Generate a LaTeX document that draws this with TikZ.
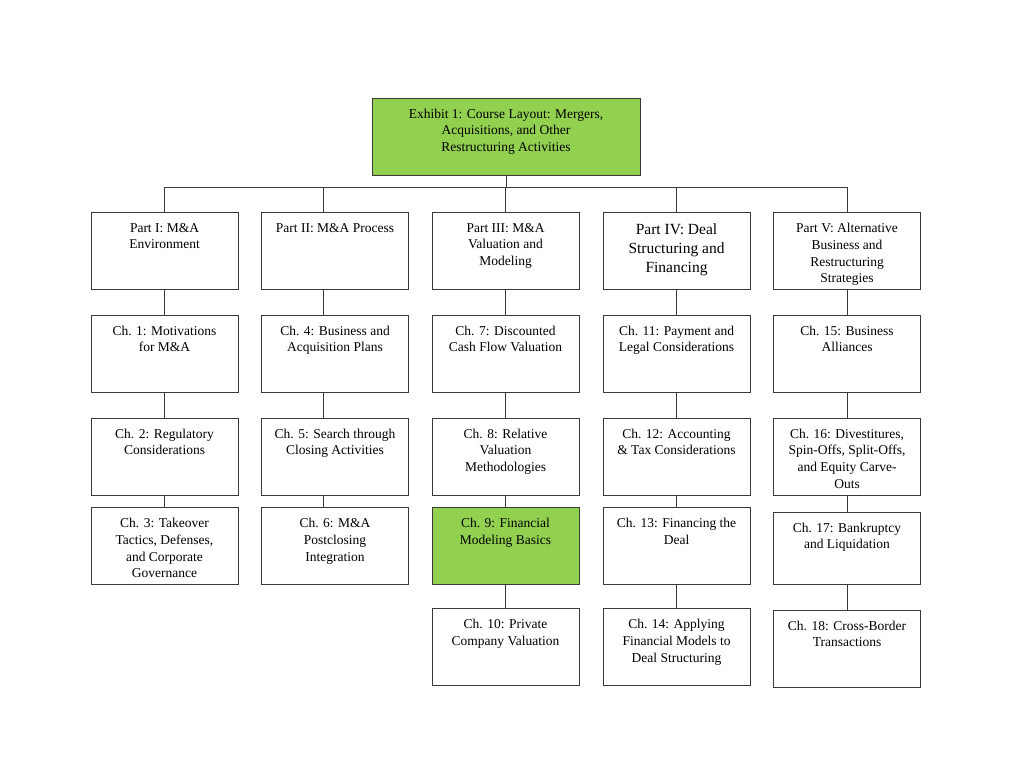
\documentclass[tikz,border=0pt]{standalone}
\usepackage{fontspec}
\setmainfont{Liberation Serif}
\definecolor{exgreen}{HTML}{92D050}
\definecolor{linegray}{HTML}{3A3A3A}

\begin{document}
\begin{tikzpicture}[x=1pt,y=-1pt,line cap=rect,
  box/.style={draw=linegray,line width=1pt,minimum width=147pt,minimum height=77pt,inner sep=0pt},
  txt/.style={anchor=north,align=center,inner sep=0pt,yshift=-11pt,font=\fontsize{13.5}{16.8}\selectfont},
  bigtxt/.style={txt,yshift=-1pt,font=\fontsize{15.5}{19}\selectfont},
  link/.style={draw=linegray,line width=1pt}]
\useasboundingbox (0,0) rectangle (1024,768);

% title box
\node[box,fill=exgreen,minimum width=268pt] (exh) at (506,136.5) {};
\node[txt] (exht) at (exh.north) {Exhibit 1: Course Layout: Mergers,\\Acquisitions, and Other\\Restructuring Activities};
\coordinate (bus) at (506,187.5);

% parts
\node[box] (p1) at (164.5,251) {};
\node[txt] (p1t) at (p1.north) {Part I: M\&A\\Environment};
\node[box] (p2) at (335,251) {};
\node[txt] (p2t) at (p2.north) {Part II: M\&A Process};
\node[box] (p3) at (505.5,251) {};
\node[txt] (p3t) at (p3.north) {Part III: M\&A\\Valuation and\\Modeling};
\node[box] (p4) at (676.5,251) {};
\node[bigtxt] (p4t) at (p4.north) {Part IV: Deal\\Structuring and\\Financing};
\node[box] (p5) at (847,251) {};
\node[txt] (p5t) at (p5.north) {Part V: Alternative\\Business and\\Restructuring\\Strategies};

% chapters, column 1
\node[box] (c1) at (164.5,353.5) {};
\node[txt] (c1t) at (c1.north) {Ch. 1: Motivations\\for M\&A};
\node[box] (c2) at (164.5,456.5) {};
\node[txt] (c2t) at (c2.north) {Ch. 2: Regulatory\\Considerations};
\node[box] (c3) at (164.5,546) {};
\node[txt] (c3t) at (c3.north) {Ch. 3: Takeover\\Tactics, Defenses,\\and Corporate\\Governance};

% column 2
\node[box] (c4) at (335,353.5) {};
\node[txt] (c4t) at (c4.north) {Ch. 4: Business and\\Acquisition Plans};
\node[box] (c5) at (335,456.5) {};
\node[txt] (c5t) at (c5.north) {Ch. 5: Search through\\Closing Activities};
\node[box] (c6) at (335,546) {};
\node[txt] (c6t) at (c6.north) {Ch. 6: M\&A\\Postclosing\\Integration};

% column 3
\node[box] (c7) at (505.5,353.5) {};
\node[txt] (c7t) at (c7.north) {Ch. 7: Discounted\\Cash Flow Valuation};
\node[box] (c8) at (505.5,456.5) {};
\node[txt] (c8t) at (c8.north) {Ch. 8: Relative\\Valuation\\Methodologies};
\node[box,fill=exgreen] (c9) at (505.5,546) {};
\node[txt] (c9t) at (c9.north) {Ch. 9: Financial\\Modeling Basics};
\node[box] (c10) at (505.5,647) {};
\node[txt] (c10t) at (c10.north) {Ch. 10: Private\\Company Valuation};

% column 4
\node[box] (c11) at (676.5,353.5) {};
\node[txt] (c11t) at (c11.north) {Ch. 11: Payment and\\Legal Considerations};
\node[box] (c12) at (676.5,456.5) {};
\node[txt] (c12t) at (c12.north) {Ch. 12: Accounting\\\& Tax Considerations};
\node[box] (c13) at (676.5,546) {};
\node[txt] (c13t) at (c13.north) {Ch. 13: Financing the\\Deal};
\node[box] (c14) at (676.5,647) {};
\node[txt] (c14t) at (c14.north) {Ch. 14: Applying\\Financial Models to\\Deal Structuring};

% column 5
\node[box] (c15) at (847,353.5) {};
\node[txt] (c15t) at (c15.north) {Ch. 15: Business\\Alliances};
\node[box] (c16) at (847,456.5) {};
\node[txt] (c16t) at (c16.north) {Ch. 16: Divestitures,\\Spin-Offs, Split-Offs,\\and Equity Carve-\\Outs};
\node[box,minimum height=72pt] (c17) at (847,548) {};
\node[txt] (c17t) at (c17.north) {Ch. 17: Bankruptcy\\and Liquidation};
\node[box] (c18) at (847,648.5) {};
\node[txt] (c18t) at (c18.north) {Ch. 18: Cross-Border\\Transactions};

% connectors
\draw[link] (exh.south) -- (bus);
\foreach \p in {p1,p3,p4,p5}
  \draw[link] (\p.north) |- (bus);
\draw[link] ([xshift=-12pt]p2.north) |- (bus);
\foreach \a/\b in {p1/c1,c1/c2,c2/c3,p3/c7,c7/c8,c8/c9,c9/c10,p4/c11,c11/c12,c12/c13,c13/c14,p5/c15,c15/c16,c16/c17,c17/c18}
  \draw[link] (\a.south) -- (\b.north);
\foreach \a/\b in {p2/c4,c4/c5,c5/c6}
  \draw[link] ([xshift=-12pt]\a.south) -- ([xshift=-12pt]\b.north);
\end{tikzpicture}
\end{document}
